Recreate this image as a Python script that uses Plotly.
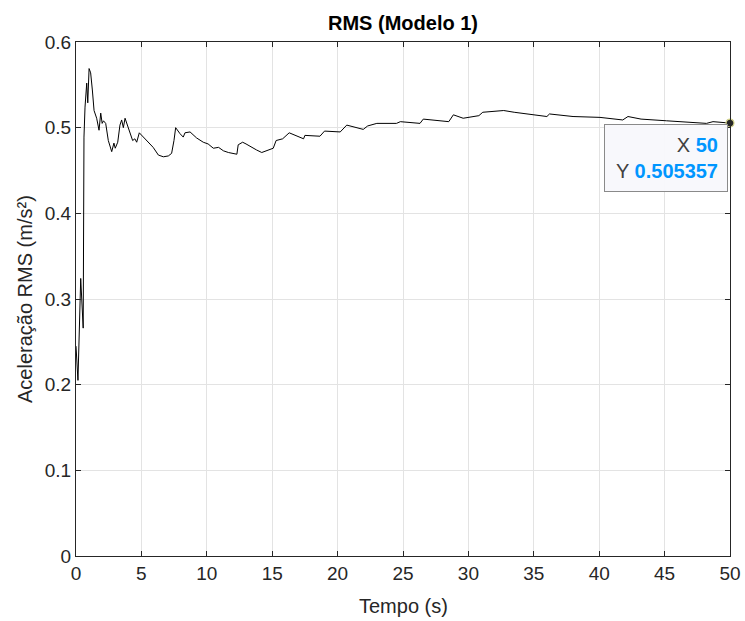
import plotly.graph_objects as go

# Time (s) and RMS acceleration (m/s^2)
tempo = [0.0, 0.15, 0.36, 0.55, 0.61, 0.69, 0.82, 0.9, 1.0, 1.12, 1.25, 1.38, 1.58, 1.76,
         1.89, 2.0, 2.1, 2.27, 2.47, 2.73, 2.9, 3.0, 3.19, 3.36, 3.49, 3.62, 3.75, 4.0,
         4.33, 4.5, 4.64, 4.84, 5.15, 5.4, 5.66, 5.9, 6.3, 6.68, 7.06, 7.31, 7.49, 7.62,
         7.95, 8.2, 8.33, 8.72, 9.22, 9.73, 10.1, 10.5, 10.9, 11.27, 11.65, 12.0, 12.3,
         12.4, 12.74, 13.0, 13.4, 13.8, 14.2, 14.8, 15.08, 15.3, 15.8, 16.3, 17.4, 17.5,
         18.65, 19.0, 20.2, 20.7, 21.96, 22.3, 23.0, 24.5, 24.8, 26.3, 26.55, 28.5, 28.85,
         29.6, 30.8, 31.1, 32.4, 32.7, 33.5, 34.96, 36.0, 36.2, 38.0, 40.06, 41.8, 42.2,
         43.2, 45.16, 47.2, 48.2, 48.7, 50.0]
rms = [0.245, 0.205, 0.324, 0.266, 0.489, 0.524, 0.552, 0.529, 0.569, 0.564, 0.544, 0.520,
       0.511, 0.497, 0.517, 0.505, 0.508, 0.505, 0.485, 0.472, 0.482, 0.476, 0.483, 0.503,
       0.509, 0.500, 0.511, 0.500, 0.485, 0.487, 0.483, 0.494, 0.489, 0.485, 0.480, 0.477,
       0.468, 0.466, 0.467, 0.470, 0.485, 0.500, 0.493, 0.489, 0.494, 0.495, 0.488, 0.483,
       0.481, 0.476, 0.477, 0.473, 0.471, 0.470, 0.469, 0.480, 0.483, 0.481, 0.477, 0.474,
       0.471, 0.475, 0.476, 0.485, 0.487, 0.494, 0.487, 0.491, 0.490, 0.496, 0.495, 0.503,
       0.498, 0.502, 0.505, 0.505, 0.507, 0.505, 0.510, 0.507, 0.515, 0.511, 0.514, 0.518,
       0.519, 0.520, 0.518, 0.515, 0.513, 0.516, 0.513, 0.512, 0.509, 0.513, 0.510, 0.508,
       0.506, 0.505, 0.507, 0.505357]

tip_x = [50]
tip_y = [0.505357]

x_ticks = [0, 5, 10, 15, 20, 25, 30, 35, 40, 45, 50]
y_ticks = [0, 0.1, 0.2, 0.3, 0.4, 0.5, 0.6]
y_tick_text = ["0", "0.1", "0.2", "0.3", "0.4", "0.5", "0.6"]

FONT = "Liberation Sans, Arial, sans-serif"
AX = "#262626"

fig = go.Figure()
fig.add_trace(go.Scatter(x=tempo, y=rms, mode="lines",
                         line=dict(color="black", width=1), showlegend=False,
                         hoverinfo="skip"))
fig.add_trace(go.Scatter(x=tip_x, y=tip_y, mode="markers",
                         marker=dict(color="#262626", size=8,
                                     line=dict(color="#d8d890", width=1.2)),
                         cliponaxis=False, showlegend=False, hoverinfo="skip"))

fig.add_annotation(
    x=tip_x[0], y=tip_y[0], xref="x", yref="y",
    xanchor="right", yanchor="top", xshift=-2, yshift=-1,
    showarrow=False, align="right", width=104,
    text=("X <b><span style='color:#0096FF'>%g</span></b><br>"
          "Y <b><span style='color:#0096FF'>%g</span></b>" % (tip_x[0], tip_y[0])),
    font=dict(family=FONT, size=20, color="#404040"),
    bgcolor="rgba(248,248,252,0.97)", bordercolor="#8a8a8a", borderwidth=1,
    borderpad=9,
)

# axis titles
fig.add_annotation(text="Tempo (s)", xref="paper", yref="paper", x=0.5,
                   y=(556 - 606) / 514, xanchor="center", yanchor="middle",
                   showarrow=False, font=dict(family=FONT, size=20, color=AX))
fig.add_annotation(text="Aceleração RMS (m/s²)", xref="paper", yref="paper",
                   x=(25 - 76) / 654, y=0.5, xanchor="center", yanchor="middle",
                   textangle=-90, showarrow=False,
                   font=dict(family=FONT, size=20, color=AX))

axis_common = dict(
    showline=True, linecolor=AX, linewidth=1.3, mirror="ticks",
    ticks="inside", ticklen=5, tickcolor=AX, tickwidth=1.3,
    showgrid=True, gridcolor="#e3e3e3", gridwidth=1,
    zeroline=False, automargin=False,
    tickfont=dict(family=FONT, size=19, color=AX),
)

fig.update_xaxes(range=[0, 50], tickvals=x_ticks, ticktext=[str(v) for v in x_ticks],
                 **axis_common)
fig.update_yaxes(range=[0, 0.6], tickvals=y_ticks, ticktext=y_tick_text,
                 **axis_common)

fig.update_layout(
    width=745, height=621,
    margin=dict(l=76, r=15, t=42, b=65),
    paper_bgcolor="white", plot_bgcolor="white",
    title=dict(text="<b>RMS (Modelo 1)</b>", x=0.5, xref="paper",
               y=1 - 23 / 621, yref="container", yanchor="middle",
               font=dict(family=FONT, size=20, color="black")),
)

fig.write_html("out.html", config={"displayModeBar": False},
               post_script="document.body.style.margin='0';"
                           "document.body.style.overflow='hidden';")
